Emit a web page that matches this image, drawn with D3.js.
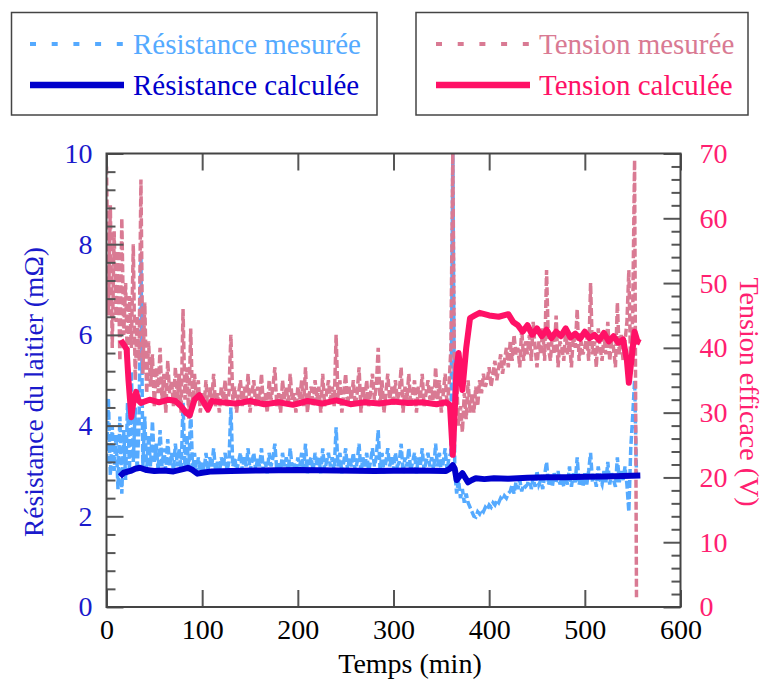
<!DOCTYPE html>
<html><head><meta charset="utf-8">
<script src="https://cdn.jsdelivr.net/npm/d3@7"></script>
<style>body{margin:0;background:#fff}svg{display:block}</style>
</head><body><svg id="c" width="766" height="687"></svg>
<script>
// ---------- DATA ----------
const sampleStep = 2; // minutes between measured samples (t = 0, 2, 4, ...)
const xTicks = [0,100,200,300,400,500,600];
const yLeftTicks = [0,2,4,6,8,10];
const yRightTicks = [0,10,20,30,40,50,60,70];

// Tension mesurée (V), sampled every 2 min from t=0
const tensionMesuree = [
 68,45,62,40,58,44,
 55,38,60,42,50,36,48,40,56,35,45,38,66,36,47,
 33,41,34,39,31,37,33,40,32,36,30,38,33,35,31,37,32,36,30,46,32,37,29,43,31,36,32,35,30,
 33,31,35,30,34,32,36,31,33,30,
 34,32,35,31,33,42,32,34,30,33,
 35,31,34,32,36,30,33,35,31,34,
 32,36,31,33,30,35,32,34,37,31,
 33,30,35,32,34,31,36,32,33,30,
 34,32,35,31,37,30,33,34,31,35,
 32,34,30,36,31,33,35,32,34,31,
 42,32,35,30,33,36,31,34,32,35,
 31,33,37,30,34,32,35,31,33,36,
 32,34,40,31,35,30,33,36,32,34,
 31,35,32,33,37,30,34,32,36,31,
 33,35,30,34,32,36,31,33,35,32,
 34,31,37,32,35,30,33,36,31,34,
 40,70,30,35,28,31,27,33,29,35,30,
 33,30,34,31,35,33,36,34,35,37,34,36,38,35,37,39,36,38,40,37,
 41,38,42,39,40,37,43,38,41,
 39,42,38,44,40,37,41,39,43,38,
 52,40,38,42,39,45,37,41,40,38,
 43,39,41,37,42,40,46,38,41,39,
 40,42,38,50,39,41,37,43,40,38,
 42,39,44,38,41,40,37,47,39,42,
 38,41,44,52,36,45,69,1.5
];

// Résistance mesurée (mΩ), sampled every 2 min from t=0
const resistanceMesuree = [
 3.2,4.6,2.9,4.0,3.0,3.8,
 2.6,4.2,2.5,3.9,2.8,4.5,3.0,5.2,3.2,4.4,3.0,4.0,7.8,3.1,4.2,
 3.0,3.8,3.1,4.1,3.2,3.6,3.0,3.9,3.1,3.5,3.0,3.7,3.1,3.4,3.0,3.6,3.1,3.5,3.0,4.5,3.1,3.8,3.0,4.4,3.0,3.4,2.95,3.3,3.0,
 3.2,3.0,3.4,3.0,3.3,3.1,3.5,3.0,3.2,2.95,
 3.3,3.1,3.4,3.0,3.2,4.4,3.1,3.3,3.0,3.2,
 3.4,3.0,3.3,3.1,3.5,3.0,3.2,3.4,3.0,3.3,
 3.1,3.5,3.0,3.2,2.95,3.4,3.1,3.3,3.6,3.0,
 3.2,3.0,3.4,3.1,3.3,3.0,3.5,3.1,3.2,2.95,
 3.3,3.1,3.4,3.0,3.6,2.95,3.2,3.3,3.0,3.4,
 3.1,3.3,2.95,3.5,3.0,3.2,3.4,3.1,3.3,3.0,
 3.96,3.1,3.4,2.95,3.2,3.5,3.0,3.3,3.1,3.4,
 3.0,3.2,3.6,2.95,3.3,3.1,3.4,3.0,3.2,3.5,
 3.1,3.3,3.9,3.0,3.4,2.95,3.2,3.5,3.1,3.3,
 3.0,3.4,3.1,3.2,3.6,2.95,3.3,3.1,3.5,3.0,
 3.2,3.4,2.95,3.3,3.1,3.5,3.0,3.2,3.4,3.1,
 3.3,3.0,3.6,3.1,3.4,2.95,3.2,3.5,3.0,3.3,
 3.4,10,3.0,2.5,2.8,2.4,2.6,2.3,2.5,2.3,2.2,
 2.1,2.0,1.98,2.1,2.05,2.15,2.1,2.2,2.15,2.25,2.2,2.3,2.25,2.35,2.3,2.4,2.35,2.45,2.4,2.5,
 2.55,2.7,2.5,2.75,2.6,2.8,2.55,2.7,2.65,
 2.7,2.9,2.6,2.85,2.65,3.0,2.7,2.8,2.6,2.9,
 3.2,2.7,2.9,2.65,2.95,2.75,3.0,2.7,2.85,2.65,
 2.9,2.7,3.1,2.65,2.95,2.75,3.3,2.7,2.9,2.65,
 2.95,2.7,3.0,3.4,2.75,2.9,2.65,3.1,2.8,2.7,
 3.0,2.75,3.2,2.7,2.95,2.8,2.65,3.3,2.75,3.0,
 2.8,3.1,2.7,2.1,3.5,4.2,5.0,2.9
];

// Tension calculée: [t (min), V]
const tensionCalculee = [
 [15,41.2],[18,40.5],[21,39.8],[23,35],[26,29.3],[28,31.5],[31,33.2],[33,32],[36,31.5],[45,32],
 [55,31.6],[65,32],[72,31.8],[78,31],[83,30],[87,29.6],[92,32],[97,32.7],[102,31.5],[106,30.5],
 [110,31.8],[120,31.6],[135,31.4],[150,31.8],[165,31.3],[180,31.6],[195,31.2],[210,31.8],[225,31.4],
 [240,31.9],[255,31.3],[270,31.6],[285,31.4],[300,31.7],[315,31.5],[330,31.6],[345,31.3],[355,31.6],
 [359,31.2],[362,23.5],[366,37],[368,39.2],[372,33.5],[376,40],[380,44.6],[385,45],[390,45.4],
 [400,45],[410,44.8],[420,45.2],[425,44],[430,43.5],[435,42.5],[440,43.5],[445,42],[450,43],
 [455,41.8],[460,42.8],[465,41.5],[470,42.5],[475,41.8],[480,43],[485,41.6],[490,42.2],[495,41.4],
 [500,42.5],[505,41.5],[510,42],[515,41.2],[520,42.3],[525,41],[530,41.8],[535,40.8],[540,41.3],
 [544,38],[546,34.6],[549,38.5],[552,42.5],[555,41],[558,40.8]
];

// Résistance calculée: [t (min), mΩ]
const resistanceCalculee = [
 [14,2.88],[18,2.96],[25,3.0],[30,3.05],[35,3.07],[42,3.02],[50,3.0],[60,3.01],[70,2.99],[80,3.04],
 [85,3.07],[90,3.02],[95,2.94],[100,2.96],[110,2.99],[130,3.0],[160,3.01],[200,3.02],[240,3.01],
 [280,3.0],[320,3.01],[355,3.0],[359,3.05],[362,3.13],[364,3.05],[366,2.8],[369,2.88],[372,2.95],
 [375,2.85],[378,2.75],[382,2.8],[386,2.84],[395,2.82],[405,2.84],[420,2.83],[440,2.85],[460,2.86],
 [480,2.86],[500,2.87],[520,2.88],[540,2.89],[558,2.9]
];

// ---------- STYLE ----------
const C = {
  resMes: "#55aaff", resCalc: "#0000cc",
  tenMes: "#d97a93", tenCalc: "#ff1166",
  axisL: "#1a1acc", axisR: "#ff2070", frame: "#555"
};
const FONT = "Liberation Serif";

const svg = d3.select("#c");
const P = {l:106.5, r:680.5, t:153.5, b:607};
const x = d3.scaleLinear().domain([0,600]).range([P.l,P.r]);
const yL = d3.scaleLinear().domain([0,10]).range([P.b,P.t]);
const yR = d3.scaleLinear().domain([0,70]).range([P.b,P.t]);

svg.append("defs").append("clipPath").attr("id","clip")
  .append("rect").attr("x",P.l).attr("y",P.t-1).attr("width",P.r-P.l).attr("height",P.b-P.t+1);

const plot = svg.append("g").attr("clip-path","url(#clip)");

const lineMesL = d3.line().x((d,i)=>x(i*sampleStep)).y(d=>yL(d));
const lineMesR = d3.line().x((d,i)=>x(i*sampleStep)).y(d=>yR(d));
const lineCalcL = d3.line().x(d=>x(d[0])).y(d=>yL(d[1]));
const lineCalcR = d3.line().x(d=>x(d[0])).y(d=>yR(d[1]));

plot.append("path").datum(resistanceMesuree).attr("d",lineMesL)
  .attr("fill","none").attr("stroke",C.resMes).attr("stroke-width",3.5).attr("stroke-dasharray","8,3");
plot.append("path").datum(tensionMesuree).attr("d",lineMesR)
  .attr("fill","none").attr("stroke",C.tenMes).attr("stroke-width",3.5).attr("stroke-dasharray","8,3");
plot.append("path").datum(resistanceCalculee).attr("d",lineCalcL)
  .attr("fill","none").attr("stroke",C.resCalc).attr("stroke-width",6).attr("stroke-linejoin","round");
plot.append("path").datum(tensionCalculee).attr("d",lineCalcR)
  .attr("fill","none").attr("stroke",C.tenCalc).attr("stroke-width",6).attr("stroke-linejoin","round");

// ---------- AXES ----------
function styleAxis(g, color){
  g.select(".domain").remove();
  g.attr("font-family",FONT).attr("font-size",28);
  g.selectAll("line").attr("stroke",C.frame).attr("stroke-width",2);
  g.selectAll("text").attr("font-family",FONT).attr("font-size",28).attr("fill",color);
}
const minorL = d3.range(0,10.001,0.4).filter(v=>Math.abs(v/2-Math.round(v/2))>1e-6);
const minorR = d3.range(0,70.001,2).filter(v=>v%10!==0);

svg.append("g").attr("transform",`translate(${P.l},0)`)
  .call(d3.axisLeft(yL).tickValues(minorL).tickSize(-9).tickFormat(""))
  .call(g=>styleAxis(g,C.axisL));
svg.append("g").attr("transform",`translate(${P.l},0)`)
  .call(d3.axisLeft(yL).tickValues(yLeftTicks).tickSize(-17).tickPadding(14).tickFormat(d3.format("d")))
  .call(g=>styleAxis(g,C.axisL));
svg.append("g").attr("transform",`translate(${P.r},0)`)
  .call(d3.axisRight(yR).tickValues(minorR).tickSize(-9).tickFormat(""))
  .call(g=>styleAxis(g,C.axisR));
svg.append("g").attr("transform",`translate(${P.r},0)`)
  .call(d3.axisRight(yR).tickValues(yRightTicks).tickSize(-17).tickPadding(19).tickFormat(d3.format("d")))
  .call(g=>styleAxis(g,C.axisR));
svg.append("g").attr("transform",`translate(0,${P.b})`)
  .call(d3.axisBottom(x).tickValues(xTicks).tickSize(-17).tickPadding(12).tickFormat(d3.format("d")))
  .call(g=>styleAxis(g,"#000"));
svg.append("g").attr("transform",`translate(0,${P.t})`)
  .call(d3.axisTop(x).tickValues(xTicks).tickSize(-17).tickFormat(""))
  .call(g=>styleAxis(g,"#000"));

svg.append("rect").attr("x",P.l).attr("y",P.t).attr("width",P.r-P.l).attr("height",P.b-P.t)
  .attr("fill","none").attr("stroke","#444").attr("stroke-width",2);

// axis titles
svg.append("text").attr("x",410).attr("y",673).attr("text-anchor","middle")
  .attr("font-family",FONT).attr("font-size",28).attr("fill","#000").text("Temps (min)");
svg.append("text").attr("transform","translate(43,392) rotate(-90)").attr("text-anchor","middle")
  .attr("font-family",FONT).attr("font-size",27.5).attr("fill",C.axisL).text("Résistance du laitier (mΩ)");
svg.append("text").attr("transform","translate(740,392) rotate(90)").attr("text-anchor","middle")
  .attr("font-family",FONT).attr("font-size",28).attr("fill",C.axisR).text("Tension efficace (V)");

// ---------- LEGENDS ----------
const legends = [
  {box:[11.5,12.5,377,115], lx:[30,124], tx:133, items:[
    {label:"Résistance mesurée", color:C.resMes, dash:true},
    {label:"Résistance calculée", color:C.resCalc, dash:false}]},
  {box:[416,12.5,748,115], lx:[436,530], tx:539, items:[
    {label:"Tension mesurée", color:C.tenMes, dash:true},
    {label:"Tension calculée", color:C.tenCalc, dash:false}]}
];
legends.forEach(L=>{
  const g = svg.append("g");
  g.append("rect").attr("x",L.box[0]).attr("y",L.box[1]).attr("width",L.box[2]-L.box[0])
    .attr("height",L.box[3]-L.box[1]).attr("fill","#fff").attr("stroke","#444").attr("stroke-width",1.5);
  L.items.forEach((it,i)=>{
    const yy = i===0 ? 44 : 85;
    g.append("line").attr("x1",L.lx[0]).attr("x2",L.lx[1]).attr("y1",yy).attr("y2",yy)
      .attr("stroke",it.color).attr("stroke-width",it.dash?4:6.5)
      .attr("stroke-dasharray",it.dash?"6,15.7":null);
    g.append("text").attr("x",L.tx).attr("y",yy+10).attr("font-family",FONT).attr("font-size",29)
      .attr("fill",it.color).text(it.label);
  });
});
</script></body></html>
